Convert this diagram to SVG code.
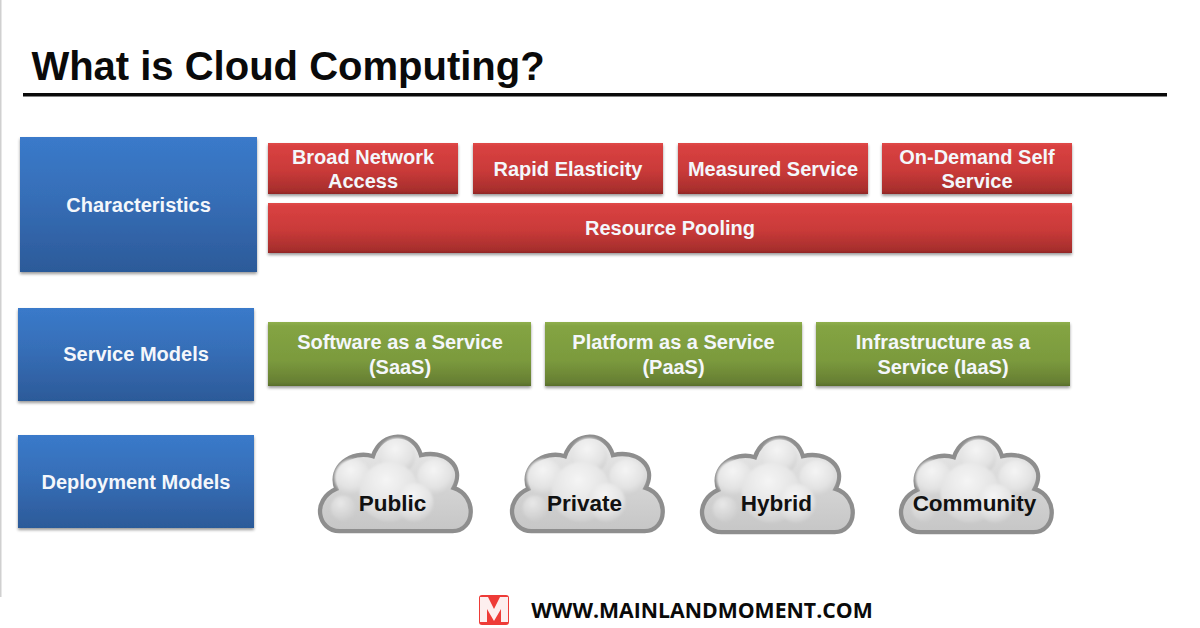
<svg xmlns="http://www.w3.org/2000/svg" width="1200" height="628" viewBox="0 0 1200 628">
<defs>
<linearGradient id="blue" x1="0" y1="0" x2="0" y2="1"><stop offset="0" stop-color="#3a7aca"/><stop offset="0.45" stop-color="#366eb7"/><stop offset="1" stop-color="#2c5a99"/></linearGradient>
<linearGradient id="red" x1="0" y1="0" x2="0" y2="1"><stop offset="0" stop-color="#e04a48"/><stop offset="0.06" stop-color="#d94141"/><stop offset="0.55" stop-color="#c93a39"/><stop offset="0.94" stop-color="#a62e2c"/><stop offset="1" stop-color="#8f2725"/></linearGradient>
<linearGradient id="green" x1="0" y1="0" x2="0" y2="1"><stop offset="0" stop-color="#90b04e"/><stop offset="0.06" stop-color="#84a443"/><stop offset="0.6" stop-color="#7b9a3d"/><stop offset="0.94" stop-color="#677f33"/><stop offset="1" stop-color="#586e2b"/></linearGradient>
<linearGradient id="cl" x1="0" y1="0" x2="0" y2="1"><stop offset="0" stop-color="#ececec"/><stop offset="0.6" stop-color="#d2d2d2"/><stop offset="1" stop-color="#c6c6c6"/></linearGradient>
<radialGradient id="puff" cx="0.45" cy="0.3" r="0.7"><stop offset="0" stop-color="#f5f5f5"/><stop offset="0.7" stop-color="#e2e2e2"/><stop offset="1" stop-color="#cfcfcf"/></radialGradient>
<radialGradient id="puff2" cx="0.4" cy="0.3" r="0.7"><stop offset="0" stop-color="#e8e8e8"/><stop offset="1" stop-color="#cdcdcd"/></radialGradient>
<filter id="sh" x="-5%" y="-5%" width="110%" height="120%"><feDropShadow dx="0" dy="2" stdDeviation="1.500" flood-color="#000" flood-opacity="0.4"/></filter>
<filter id="soft" x="-20%" y="-20%" width="140%" height="140%"><feGaussianBlur stdDeviation="1.200"/></filter>
<g id="cloud" transform="scale(0.96)">
<path d="M-58 48C-80 48 -88 16 -61 4C-70 -19 -45 -37 -23 -30C-14 -57 20 -57 27 -31C50 -37 74 -21 61 3C86 11 84 48 60 48Z" fill="url(#cl)" stroke="#8e8e8e" stroke-width="4.500"/>
<g filter="url(#soft)">
<circle cx="-44" cy="-8" r="19" fill="url(#puff)"/>
<circle cx="2" cy="-30" r="19" fill="url(#puff)"/>
<circle cx="42" cy="-8" r="19" fill="url(#puff)"/>
<circle cx="-54" cy="24" r="13" fill="url(#puff2)"/>
<circle cx="-6" cy="7" r="31" fill="url(#puff)"/>
<circle cx="20" cy="18" r="20" fill="url(#puff)"/>
</g>
</g>
</defs>
<style>
text{font-family:"Liberation Sans",Arial,sans-serif;font-weight:700;text-anchor:middle}
.b{fill:url(#blue);filter:url(#sh)}
.r{fill:url(#red);filter:url(#sh)}
.g{fill:url(#green);filter:url(#sh)}
.w{fill:#f4f7fb;font-size:20px}
.c{fill:#111;font-size:22.500px}
</style>
<rect width="1200" height="628" fill="#fff"/>
<rect x="0" y="0" width="1.500" height="597" fill="#d0d0d0"/>
<text x="288" y="80" fill="#0a0a0a" style="font-size:40px">What is Cloud Computing?</text>
<rect x="23" y="93" width="1144" height="3.500" fill="#0a0a0a"/>
<g id="characteristics"><rect class="b" x="20" y="137" width="237" height="135"/><text class="w" x="138.500" y="212">Characteristics</text></g>
<g id="service-models"><rect class="b" x="18" y="308" width="236" height="93"/><text class="w" x="136" y="361">Service Models</text></g>
<g id="deployment-models"><rect class="b" x="18" y="435" width="236" height="93"/><text class="w" x="136" y="489">Deployment Models</text></g>
<g id="broad"><rect class="r" x="268" y="143" width="190" height="51"/><text class="w" x="363" y="164">Broad Network</text><text class="w" x="363" y="188">Access</text></g>
<g id="rapid"><rect class="r" x="473" y="143" width="190" height="51"/><text class="w" x="568" y="176">Rapid Elasticity</text></g>
<g id="measured"><rect class="r" x="678" y="143" width="190" height="51"/><text class="w" x="773" y="176">Measured Service</text></g>
<g id="ondemand"><rect class="r" x="882" y="143" width="190" height="51"/><text class="w" x="977" y="164">On-Demand Self</text><text class="w" x="977" y="188">Service</text></g>
<g id="pooling"><rect class="r" x="268" y="203" width="804" height="50"/><text class="w" x="670" y="235">Resource Pooling</text></g>
<g id="saas"><rect class="g" x="268" y="322" width="263" height="64"/><text class="w" x="400" y="349">Software as a Service</text><text class="w" x="400" y="374">(SaaS)</text></g>
<g id="paas"><rect class="g" x="545" y="322" width="257" height="64"/><text class="w" x="673.500" y="349">Platform as a Service</text><text class="w" x="673.500" y="374">(PaaS)</text></g>
<g id="iaas"><rect class="g" x="816" y="322" width="254" height="64"/><text class="w" x="943" y="349">Infrastructure as a</text><text class="w" x="943" y="374">Service (IaaS)</text></g>
<g id="public"><use href="#cloud" x="395" y="485"/><text class="c" x="392.500" y="511">Public</text></g>
<g id="private"><use href="#cloud" x="587" y="485"/><text class="c" x="584.500" y="511">Private</text></g>
<g id="hybrid"><use href="#cloud" x="777" y="486"/><text class="c" x="776.500" y="511">Hybrid</text></g>
<g id="community"><use href="#cloud" x="976" y="486"/><text class="c" x="974.500" y="511">Community</text></g>
<g id="logo"><rect x="479" y="595" width="30" height="30" rx="3" fill="#ee3b37"/><path d="M480 597H488L494 609L500 597H508V622H501V609L494 621L487 609V622H480Z" fill="#fdeeee"/></g>
<text x="702" y="618" fill="#0a0a0a" style="font-family:'Open Sans',sans-serif;font-size:21.250px;font-weight:700">WWW.MAINLANDMOMENT.COM</text>
</svg>
